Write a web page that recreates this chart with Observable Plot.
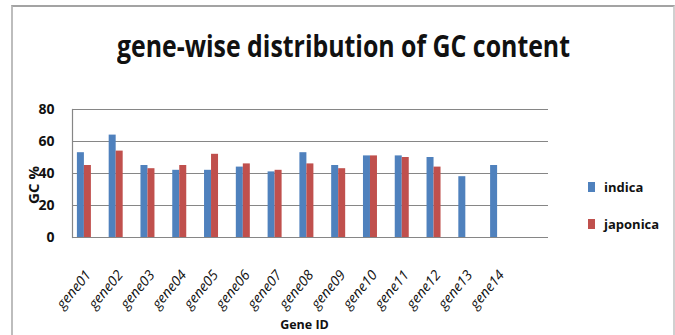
<!DOCTYPE html>
<html>
<head>
<meta charset="utf-8">
<script src="https://cdn.jsdelivr.net/npm/d3@7"></script>
<script src="https://cdn.jsdelivr.net/npm/@observablehq/plot@0.6"></script>
<style>
  html, body { margin: 0; padding: 0; background: #fff; }
  #wrap { position: relative; width: 675px; height: 335px; overflow: hidden; font-family: "Open Sans", sans-serif; color: #111; }
  #border { position: absolute; left: 11px; top: 5px; width: 664px; height: 345px; box-sizing: border-box; border: 2px solid #a3a3a3; border-bottom: none; border-left-color: #bdbdbd; border-right-color: #d0d0d0; }
  #chart { position: absolute; left: 0; top: 0; }
  #title { position: absolute; top: 31px; left: 0; white-space: nowrap; font-weight: 700; font-size: 30px; line-height: 30px; transform-origin: 0 0; }
  #ylabel { position: absolute; left: 33px; top: 185px; white-space: nowrap; font-weight: 700; font-size: 15px; line-height: 15px; transform: translate(-50%, -50%) rotate(-90deg); }
  .lg { position: absolute; left: 588px; display: flex; align-items: center; font-weight: 700; font-size: 13px; }
  .lg span.sw { display: inline-block; width: 7px; height: 10px; margin-right: 9px; }
</style>
</head>
<body>
<div id="wrap">
  <div id="border"></div>
  <div id="chart"></div>
  <div id="title">gene-wise distribution of GC content</div>
  <div id="ylabel"></div>
  <div id="legend"></div>
</div>
<script>
const genes = ["gene01","gene02","gene03","gene04","gene05","gene06","gene07","gene08","gene09","gene10","gene11","gene12","gene13","gene14"];
const indica   = [53, 64, 45, 42, 42, 44, 41, 53, 45, 51, 51, 50, 38, 45];
const japonica = [45, 54, 43, 45, 52, 46, 42, 46, 43, 51, 50, 44, null, null];
const varieties = ["indica", "japonica"];
const colors = ["#4F81BD", "#C0504D"];
const yTicks = [0, 20, 40, 60, 80];
const yLabel = "GC %";
const xLabel = "Gene ID";

const data = genes.flatMap((g, i) => [
  {gene: g, variety: "indica", gc: indica[i]},
  {gene: g, variety: "japonica", gc: japonica[i]}
]).filter(d => d.gc != null);

const xRange = [68, 513];
const bw = (xRange[1] - xRange[0]) / genes.length;
const barW = 7;

const chart = Plot.plot({
  width: 675,
  height: 335,
  marginTop: 109,
  marginBottom: 98,
  marginLeft: 72,
  marginRight: 127,
  style: {fontFamily: "Open Sans, sans-serif", color: "#111", background: "transparent", overflow: "visible"},
  x: {domain: genes, range: xRange, padding: 0, round: false},
  y: {domain: [0, 80]},
  color: {domain: varieties, range: colors},
  marks: [
    Plot.gridY(yTicks, {stroke: "#868686", strokeOpacity: 1, strokeWidth: 1.2}),
    Plot.frame({anchor: "left", stroke: "#868686", strokeWidth: 1.2}),
    Plot.barY(data.filter(d => d.variety === "indica"), {
      x: "gene", y: "gc", fill: "variety",
      insetLeft: bw / 2 - barW, insetRight: bw / 2
    }),
    Plot.barY(data.filter(d => d.variety === "japonica"), {
      x: "gene", y: "gc", fill: "variety",
      insetLeft: bw / 2, insetRight: bw / 2 - barW
    }),
    Plot.axisY(yTicks, {tickSize: 0, tickPadding: 18, fontWeight: "bold", fontSize: 14, label: null}),
    Plot.axisX({tickSize: 0, tickRotate: -50, tickPadding: 35, dx: 4, fontStyle: "italic", fontSize: 14, label: null}),
    Plot.text([xLabel], {frameAnchor: "bottom", dy: 91, dx: -6, fontWeight: "bold", fontSize: 12.5})
  ]
});
document.getElementById("chart").appendChild(chart);

document.getElementById("ylabel").textContent = yLabel;

// title: scale horizontally to match the reference width
const title = document.getElementById("title");
const tw = title.getBoundingClientRect().width;
const targetW = 453;
title.style.left = (343 - targetW / 2) + "px";
title.style.transform = `scaleX(${targetW / tw})`;

// legend
const legend = document.getElementById("legend");
const legendTops = [178, 215];
varieties.forEach((v, i) => {
  const el = document.createElement("div");
  el.className = "lg";
  el.style.top = legendTops[i] + "px";
  el.innerHTML = `<span class="sw" style="background:${colors[i]}"></span><span>${v}</span>`;
  legend.appendChild(el);
});
</script>
</body>
</html>
